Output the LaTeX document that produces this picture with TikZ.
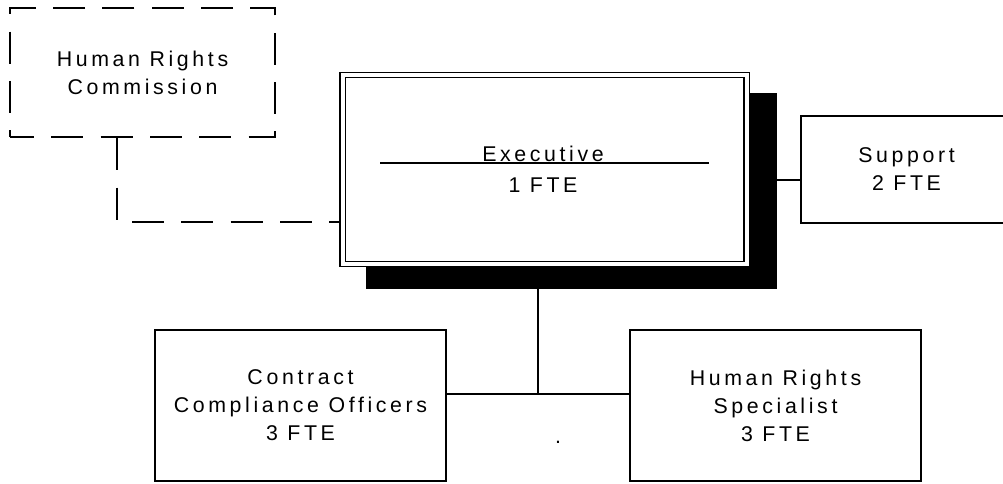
\documentclass[tikz,border=0pt]{standalone}
\usepackage{fontspec}
\setmainfont{Liberation Sans}[LetterSpace=17]
\pgfdeclarelayer{background}
\pgfsetlayers{background,main}
\begin{document}
\begin{tikzpicture}[x=0.75pt,y=-0.75pt,
  every node/.style={font=\fontsize{16}{21}\selectfont, align=center, inner sep=0pt},
  unitbox/.style={draw, line width=1pt, fill=white},
  dashbox/.style={draw, line width=2pt, dash pattern=on 24pt off 13pt, dash phase=6pt},
  dashline/.style={line width=2pt, dash pattern=on 24pt off 13pt},
  conn/.style={line width=1pt},
  shadowbox/.style={fill=black, draw=black},
  execbox/.style={draw, line width=0.9pt, double=white, double distance=3pt, fill=white}
]
\useasboundingbox (0,0) rectangle (1003,484);
\clip (0,0) rectangle (1003,484);
% nodes
\node[dashbox, minimum width=265*0.75pt, minimum height=129*0.75pt] (hrc) at (142.5,72.5) {Human Rights\\Commission};
\node[shadowbox, minimum width=410*0.75pt, minimum height=195*0.75pt] (shadow) at (571,190.5) {};
\node[execbox, minimum width=404*0.75pt, minimum height=189*0.75pt] (exec) at (544.5,169.5) {};
\node (exectext) at (543,169) {Executive\\[2pt]1 FTE};
\draw[conn] (380,163) -- (709,163);
\node[unitbox, minimum width=211*0.75pt, minimum height=107*0.75pt] (support) at (906.5,169.5) {Support\\2 FTE};
\node[unitbox, minimum width=291*0.75pt, minimum height=151*0.75pt] (cco) at (300.5,405.5) {Contract\\Compliance Officers\\3 FTE};
\node[unitbox, minimum width=291*0.75pt, minimum height=151*0.75pt] (hrs) at (775.5,405.5) {Human Rights\\Specialist\\3 FTE};
\node[anchor=base] (dot) at (558,443) {.};
% connector points
\coordinate (c1) at (117,222);
\coordinate (c2) at (790,180);
\coordinate (j) at (538,394);
\begin{pgfonlayer}{background}
\draw[dashline] (hrc.south -| c1) -- (c1) -- (exec.west |- c1);
\draw[conn] (shadow.east |- c2) -- (support.west |- c2);
\draw[conn] (shadow.south -| j) -- (j);
\draw[conn] (cco.east |- j) -- (hrs.west |- j);
\end{pgfonlayer}
\end{tikzpicture}
\end{document}
